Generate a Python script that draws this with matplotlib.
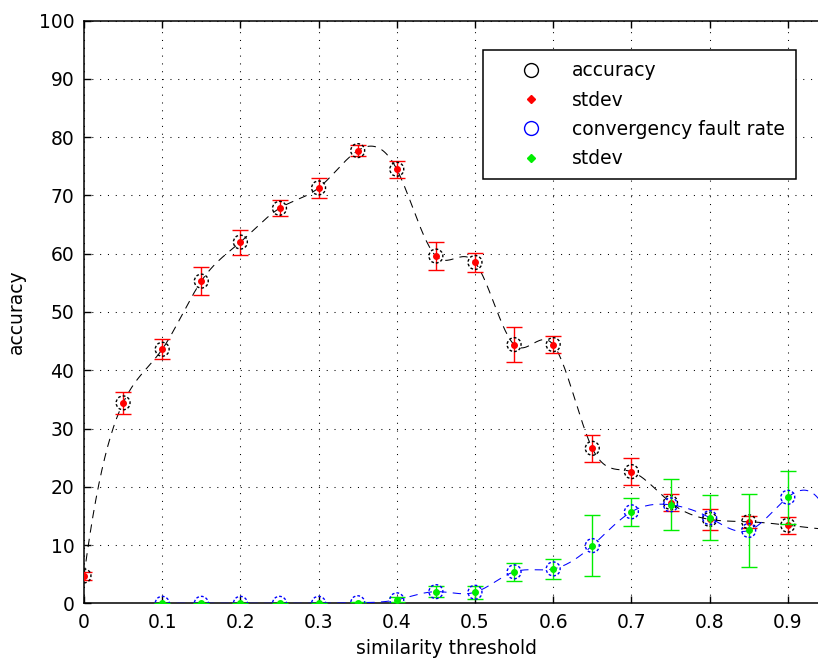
import matplotlib
matplotlib.use("Agg")
import matplotlib.pyplot as plt
from matplotlib.lines import Line2D
import numpy as np

# similarity threshold values
thr = [0.0, 0.05, 0.1, 0.15, 0.2, 0.25, 0.3, 0.35, 0.4, 0.45,
       0.5, 0.55, 0.6, 0.65, 0.7, 0.75, 0.8, 0.85, 0.9, 0.95]

# accuracy and its stdev
acc = [4.7, 34.4, 43.6, 55.3, 62.0, 67.8, 71.3, 77.7, 74.5, 59.6,
       58.5, 44.4, 44.4, 26.6, 22.6, 17.3, 14.4, 14.0, 13.4, 12.7]
acc_sd = [0.7, 1.9, 1.75, 2.35, 2.15, 1.4, 1.75, 1.0, 1.45, 2.45,
          1.6, 2.95, 1.45, 2.35, 2.35, 1.5, 1.75, 1.0, 1.45, 1.5]

# convergency fault rate (starts at 0.1) and its stdev
cfr_thr = thr[2:]
cfr = [0.0, 0.0, 0.0, 0.0, 0.0, 0.1, 0.6, 2.0, 1.9, 5.4,
       5.9, 9.9, 15.7, 16.9, 14.7, 12.5, 18.2, 15.5]
cfr_sd = [0.1, 0.1, 0.1, 0.1, 0.1, 0.2, 0.4, 1.0, 1.1, 1.5,
          1.7, 5.25, 2.45, 4.35, 3.85, 6.2, 4.55, 3.0]

xtick_labels = ["0", "0.1", "0.2", "0.3", "0.4", "0.5",
                "0.6", "0.7", "0.8", "0.9"]

plt.rcParams["font.family"] = "DejaVu Sans"
plt.rcParams["font.size"] = 13.5


def spline(x, y, n=500):
    # not-a-knot cubic spline, like matlab's spline()
    x = np.asarray(x, float)
    y = np.asarray(y, float)
    h = np.diff(x)
    m = len(x)
    A = np.zeros((m, m))
    b = np.zeros(m)
    A[0, 0], A[0, 1], A[0, 2] = h[1], -(h[0] + h[1]), h[0]
    A[-1, -3], A[-1, -2], A[-1, -1] = h[-1], -(h[-2] + h[-1]), h[-2]
    for i in range(1, m - 1):
        A[i, i - 1] = h[i - 1]
        A[i, i] = 2 * (h[i - 1] + h[i])
        A[i, i + 1] = h[i]
        b[i] = 6 * ((y[i + 1] - y[i]) / h[i] - (y[i] - y[i - 1]) / h[i - 1])
    M = np.linalg.solve(A, b)
    t = np.linspace(x[0], x[-1], n)
    k = np.clip(np.searchsorted(x, t) - 1, 0, m - 2)
    hk = h[k]
    a = x[k + 1] - t
    c = t - x[k]
    s = (M[k] * a**3 + M[k + 1] * c**3) / (6 * hk) \
        + (y[k] / hk - M[k] * hk / 6) * a + (y[k + 1] / hk - M[k + 1] * hk / 6) * c
    return t, s


fig = plt.figure(figsize=(8.18, 6.64), dpi=100)
ax = fig.add_axes([84 / 818, 1 - 603.3 / 664, 782 / 818, 582.6 / 664])

dash = (0, (8, 6))

# accuracy
tx, ty = spline(thr, acc)
ax.plot(tx, ty, color="k", lw=0.75, ls=dash, zorder=3)
ax.errorbar(thr, acc, yerr=acc_sd, fmt="o", color="red", ms=4, elinewidth=1,
            capsize=6, capthick=1, zorder=4)
ax.scatter(thr, acc, s=100, facecolors="none", edgecolors="k", linewidths=1,
           linestyles=(0, (2, 1.5)), zorder=5)

# convergency fault rate
tx, ty = spline(cfr_thr, cfr)
ax.plot(tx, ty, color="blue", lw=0.75, ls=dash, zorder=6)
ax.errorbar(cfr_thr, cfr, yerr=cfr_sd, fmt="o", color="#00ee00", ms=4,
            elinewidth=1, capsize=6, capthick=1, zorder=7)
ax.scatter(cfr_thr, cfr, s=100, facecolors="none", edgecolors="blue",
           linewidths=1, linestyles=(0, (2, 1.5)), zorder=8)

ax.set_xlim(0, 1)
ax.set_ylim(0, 100)
ax.set_xticks(np.arange(0, 1.01, 0.1))
ax.set_xticklabels(xtick_labels + [""])
ax.set_yticks(np.arange(0, 101, 10))
ax.tick_params(direction="in", length=5, width=1, top=True, right=True,
               pad=7, colors="k")
ax.grid(True, color="k", lw=0.75, ls=(0, (1, 6.5)))
ax.set_axisbelow(True)
for sp in ax.spines.values():
    sp.set_linewidth(1.1)

ax.set_xlabel("similarity threshold")
ax.set_ylabel("accuracy")
ax.xaxis.set_label_coords(0.463, -0.062)
ax.yaxis.set_label_coords(-0.074, 0.5)

handles = [
    Line2D([], [], ls="none", marker="o", ms=10, mfc="none", mec="k", mew=1),
    Line2D([], [], ls="none", marker="D", ms=4, color="red"),
    Line2D([], [], ls="none", marker="o", ms=10, mfc="none", mec="blue", mew=1),
    Line2D([], [], ls="none", marker="D", ms=4, color="#00ee00"),
]
labels = ["accuracy", "stdev", "convergency fault rate", "stdev"]
leg = ax.legend(handles, labels, loc="upper left",
                bbox_to_anchor=(483 / 818, 1 - 50 / 664),
                bbox_transform=fig.transFigure, borderaxespad=0,
                frameon=True, fancybox=False, framealpha=1, edgecolor="k",
                borderpad=0.6, handlelength=3.9, handletextpad=0.25,
                labelspacing=0.55)
leg.get_frame().set_linewidth(1.1)

fig.savefig("out.png", dpi=100)
